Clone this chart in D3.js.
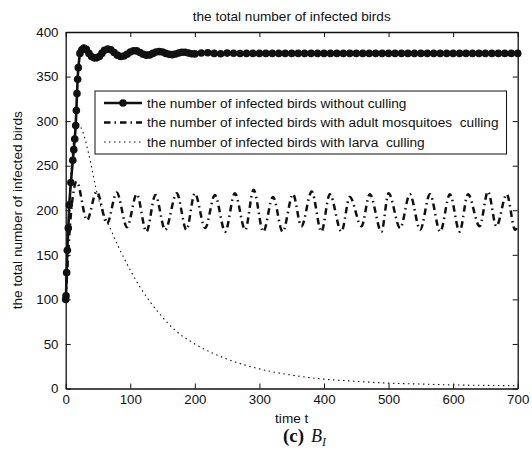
<!DOCTYPE html>
<html>
<head>
<meta charset="utf-8">
<script src="https://cdn.jsdelivr.net/npm/d3@7"></script>
<style>
  body { margin: 0; background: #fff; }
  text { font-family: "Liberation Sans", Arial, Helvetica, sans-serif; fill: #111; white-space: pre; }
</style>
</head>
<body>
<div id="chart"></div>
<script>
// tick labels
const xTicks = [0, 100, 200, 300, 400, 500, 600, 700];
const yTicks = [0, 50, 100, 150, 200, 250, 300, 350, 400];

// infected birds without culling (solid line, dot markers)
const noCullT = [0, 0.5, 1.5, 2.5, 4, 5.5, 8, 11, 12.5, 14, 15.5, 16.5, 17.5, 18.5, 19.5, 22, 25,
  28, 32, 36, 40, 44, 48, 52, 56, 60, 65, 70, 75, 80, 85, 90, 95, 100, 105, 110, 115, 120, 125,
  130, 135, 140, 145, 150, 155, 160, 165, 170, 175, 180, 185, 190, 195, 200, 210, 220, 230, 240,
  250, 260, 270, 280, 290, 300, 310, 320, 330, 340, 350, 360, 370, 380, 390, 400, 410, 420, 430,
  440, 450, 460, 470, 480, 490, 500, 510, 520, 530, 540, 550, 560, 570, 580, 590, 600, 610, 620,
  630, 640, 650, 660, 670, 680, 690, 700];
const noCullV = [100, 104, 130, 155, 180, 206, 231, 256, 268, 280, 295, 312, 331, 347, 360, 376, 380,
  382, 380.5, 376, 372.5, 371, 371, 372.5, 376, 379.5, 381, 380, 377, 374, 372.5, 373, 375, 377.5,
  379, 378.8, 377, 375, 374, 374.3, 376, 377.5, 378, 377.5, 376, 375, 374.6, 375.3, 376.5, 377.3,
  377.2, 376.4, 375.6, 375.4, 376.5, 376.8, 376, 375.6, 376.3, 376.2, 375.9, 376, 376, 376, 376, 376,
  376, 376, 376, 376, 376, 376, 376, 376, 376, 376, 376, 376, 376, 376, 376, 376, 376, 376, 376,
  376, 376, 376, 376, 376, 376, 376, 376, 376, 376, 376, 376, 376, 376, 376, 376, 376, 376, 376];

// infected birds with adult mosquitoes culling (dash-dot)
const adultT = [0, 8, 17, 33, 48, 64, 79, 95, 110, 125, 139, 154, 172, 187, 200, 216, 231, 247, 262,
  278, 291, 306, 321, 336, 352, 365, 381, 396, 409, 427, 440, 458, 471, 489, 500, 518, 533, 549,
  564, 580, 595, 610, 623, 641, 654, 667, 683, 696, 700];
const adultV = [100, 195, 232, 189, 221, 185, 220, 181, 218, 176, 217, 178, 219, 178, 219, 180, 217,
  176, 219, 178, 223, 176, 215, 176, 218, 182, 221, 176, 218, 176, 215, 182, 218, 176, 219, 180,
  218, 178, 218, 176, 218, 176, 218, 182, 221, 182, 218, 178, 182];

// infected birds with larva culling (dotted)
const larvaT = [0, 5, 10, 15, 19, 27, 35, 50, 70, 94, 115, 144, 170, 200, 250, 300, 350, 400, 450,
  500, 550, 600, 650, 700];
const larvaV = [100, 200, 262, 290, 296, 287, 265, 215, 178, 141, 114, 85, 65, 50, 33, 22, 15, 10.5,
  8, 6, 5, 4, 3.5, 3];

const legendLabels = [
  'the number of infected birds without culling',
  'the number of infected birds with adult mosquitoes  culling',
  'the number of infected birds with larva  culling'
];

const chart = (() => {
  const W = 532, H = 455;
  const BOX = {left: 65.7, right: 517.7, top: 32, bottom: 388.5};
  let svg;

  const x = d3.scaleLinear().domain([0, 700]).range([BOX.left, BOX.right]);
  const y = d3.scaleLinear().domain([0, 400]).range([BOX.bottom, BOX.top]);

  const zip = (ts, vs) => ts.map((t, i) => ({t: t, v: vs[i]}));

  const appendSVG = () => {
    svg = d3.select('#chart').append('svg')
      .attr('width', W)
      .attr('height', H);
  };

  const drawAxes = () => {
    svg.append('g')
      .attr('transform', `translate(0,${BOX.bottom})`)
      .call(d3.axisBottom(x).tickValues(xTicks).tickSizeInner(-5).tickSizeOuter(0).tickPadding(6.5));
    svg.append('g')
      .attr('transform', `translate(${BOX.left},0)`)
      .call(d3.axisLeft(y).tickValues(yTicks).tickSizeInner(-5).tickSizeOuter(0).tickPadding(7.2));
    svg.append('g')
      .attr('transform', `translate(0,${BOX.top})`)
      .call(d3.axisTop(x).tickValues(xTicks).tickSizeInner(-5).tickSizeOuter(0).tickFormat(''));
    svg.append('g')
      .attr('transform', `translate(${BOX.right},0)`)
      .call(d3.axisRight(y).tickValues(yTicks).tickSizeInner(-5).tickSizeOuter(0).tickFormat(''));

    svg.selectAll('.domain').attr('stroke', '#111').attr('stroke-width', 1.3);
    svg.selectAll('.tick line').attr('stroke', '#111').attr('stroke-width', 1);
    svg.selectAll('.tick text').attr('font-size', 13.3).attr('fill', '#111')
      .attr('font-family', '"Liberation Sans", Arial, sans-serif');

    svg.append('text')
      .attr('x', (BOX.left + BOX.right) / 2)
      .attr('y', 21)
      .attr('text-anchor', 'middle')
      .attr('font-size', 13.6)
      .text('the total number of infected birds');

    svg.append('text')
      .attr('x', (BOX.left + BOX.right) / 2)
      .attr('y', 423)
      .attr('text-anchor', 'middle')
      .attr('font-size', 13.6)
      .text('time t');

    svg.append('text')
      .attr('transform', `translate(22,${(BOX.top + BOX.bottom) / 2}) rotate(-90)`)
      .attr('text-anchor', 'middle')
      .attr('font-size', 13.6)
      .text('the total number of infected birds');

    // panel caption
    const cap = svg.append('text')
      .attr('x', 283)
      .attr('y', 442)
      .style('font-family', '"Liberation Serif", "Times New Roman", serif')
      .attr('font-size', 19);
    cap.append('tspan').attr('font-weight', 'bold').text('(c)');
    cap.append('tspan').attr('dx', 7).attr('font-style', 'italic').attr('font-size', 18).text('B');
    cap.append('tspan').attr('dy', 4).attr('font-style', 'italic').attr('font-size', 12).text('I');
  };

  const drawSeries = () => {
    const line = d3.line().x(d => x(d.t)).y(d => y(d.v));

    svg.append('path')
      .datum(zip(larvaT, larvaV))
      .attr('d', line.curve(d3.curveMonotoneX))
      .attr('fill', 'none')
      .attr('stroke', '#111')
      .attr('stroke-width', 1.1)
      .attr('stroke-dasharray', '1.5,3.5');

    svg.append('path')
      .datum(zip(adultT, adultV))
      .attr('d', line.curve(d3.curveMonotoneX))
      .attr('fill', 'none')
      .attr('stroke', '#111')
      .attr('stroke-width', 2.5)
      .attr('stroke-dasharray', '6.5,4,1.5,4');

    const noCull = zip(noCullT, noCullV);
    svg.append('path')
      .datum(noCull)
      .attr('d', line.curve(d3.curveLinear))
      .attr('fill', 'none')
      .attr('stroke', '#111')
      .attr('stroke-width', 2.6);

    svg.append('g').selectAll('circle')
      .data(noCull)
      .enter()
      .append('circle')
      .attr('cx', d => x(d.t))
      .attr('cy', d => y(d.v))
      .attr('r', 3.8)
      .attr('fill', '#111');
  };

  const drawLegend = () => {
    const LX = 95, LY = 91, ROW = 19.5;
    const g = svg.append('g');
    const box = g.append('rect')
      .attr('x', LX).attr('y', LY)
      .attr('height', 63)
      .attr('fill', '#fff')
      .attr('stroke', '#111')
      .attr('stroke-width', 1);

    const styles = [
      {w: 2.6, dash: null, marker: true},
      {w: 2.5, dash: '6.5,4,1.5,4', marker: false},
      {w: 1.1, dash: '1.5,3.5', marker: false}
    ];

    let maxW = 0;
    legendLabels.forEach((label, i) => {
      const cy = LY + 12 + i * ROW;
      g.append('line')
        .attr('x1', LX + 9).attr('x2', LX + 47)
        .attr('y1', cy).attr('y2', cy)
        .attr('stroke', '#111')
        .attr('stroke-width', styles[i].w)
        .attr('stroke-dasharray', styles[i].dash);
      if (styles[i].marker) {
        g.append('circle').attr('cx', LX + 28).attr('cy', cy).attr('r', 3.8).attr('fill', '#111');
      }
      const t = g.append('text')
        .attr('x', LX + 52)
        .attr('y', cy + 4.7)
        .attr('font-size', 13.7)
        .text(label);
      maxW = Math.max(maxW, t.node().getComputedTextLength());
    });
    box.attr('width', 52 + maxW + 8);
  };

  const draw = () => {
    appendSVG();
    drawSeries();
    drawAxes();
    drawLegend();
  };

  return {draw: draw};
})();

chart.draw();
</script>
</body>
</html>
